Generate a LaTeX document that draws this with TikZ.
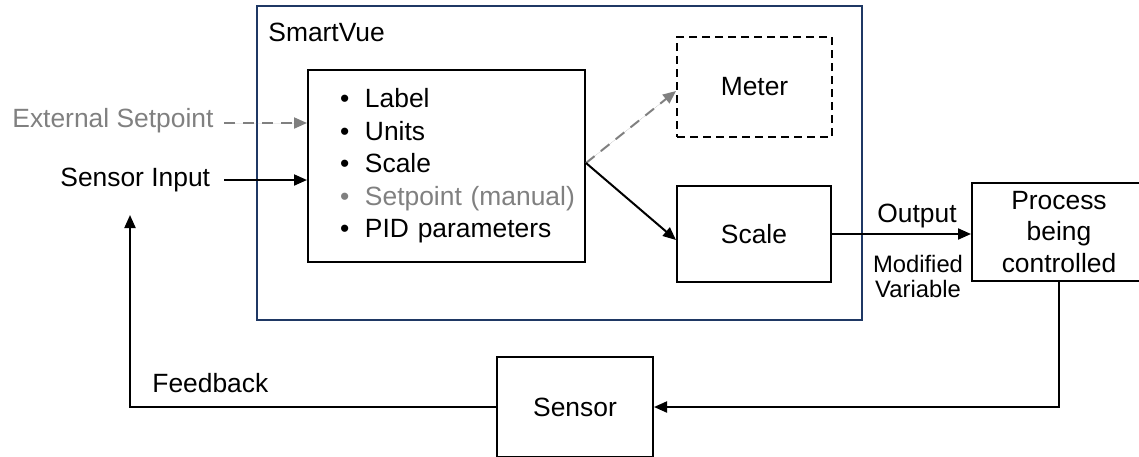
\documentclass[tikz,border=0pt]{standalone}
\usepackage{fontspec}
\setmainfont{Liberation Sans}
\usetikzlibrary{arrows.meta,calc}
\definecolor{svblue}{RGB}{31,56,100}
\definecolor{lgray}{RGB}{128,128,128}
\begin{document}
\begin{tikzpicture}[x=0.5pt,y=-0.5pt,
  every node/.style={font=\fontsize{13.2}{16.25}\selectfont},
  box/.style={draw=black, line width=1pt, inner sep=0pt},
  bluebox/.style={draw=svblue, line width=1pt, inner sep=0pt},
  dbox/.style={box, dash pattern=on 4pt off 2.5pt},
  lbl/.style={inner sep=0pt},
  arr/.style={-{Triangle[length=6.5pt,width=5.5pt]}, line width=1pt},
  garr/.style={arr, draw=lgray, fill=lgray, dash pattern=on 5.5pt off 4pt},
  small/.style={font=\fontsize{11.9}{12.5}\selectfont}]
\useasboundingbox (0,0) rectangle (1139,456);

% SmartVue container
\node[bluebox, minimum width=302.5pt, minimum height=157pt] (smart) at (559.5,163) {};
\node[lbl, anchor=base west] (title) at (268,41) {SmartVue};

% list box
\node[box, minimum height=96pt, text width=138.5pt, align=left] (list) at (446.5,166)
{\hspace*{16pt}\makebox[12.5pt][l]{\textbullet}Label\\
 \hspace*{16pt}\makebox[12.5pt][l]{\textbullet}Units\\
 \hspace*{16pt}\makebox[12.5pt][l]{\textbullet}Scale\\
 \hspace*{16pt}\textcolor{lgray}{\makebox[12.5pt][l]{\textbullet}Setpoint (manual)}\\
 \hspace*{16pt}\makebox[12.5pt][l]{\textbullet}PID parameters};

\node[dbox, minimum width=77.5pt, minimum height=50pt] (meter) at (754.5,87) {Meter};
\node[box, minimum width=77pt, minimum height=48pt] (scale) at (754,234) {Scale};
\node[box, minimum width=87pt, minimum height=49pt, align=center,
      font=\fontsize{13.2}{15.75}\selectfont] (process) at (1059,232) {Process\\being\\controlled};
\node[box, minimum width=78pt, minimum height=50pt] (sensor) at (575,407) {Sensor};

% labels
\node[lbl, anchor=base west, text=lgray] (ext) at (12,127) {External Setpoint};
\node[lbl, anchor=base west] (sin) at (60,186) {Sensor Input};
\node[lbl, anchor=base west] (fb) at (152,392) {Feedback};
\node[lbl, anchor=base] (out) at (917,222) {Output};
\node[lbl, small, anchor=north, align=center] (mv) at (918,255) {Modified\\Variable};

% connectors
\coordinate (extStart) at (224,123);
\coordinate (sinStart) at (224,180);
\draw[garr] (extStart) -- (extStart -| list.west);
\draw[arr] (sinStart) -- (sinStart -| list.west);

\coordinate (fork) at ([yshift=1.5pt]list.east);
\draw[garr] (fork) -- ([yshift=-2pt]meter.west);
\draw[arr] (fork) -- ([yshift=-3pt]scale.west);

\draw[arr] (scale.east) -- (scale.east -| process.west);
\draw[arr] (process.south) -- (process.south |- sensor.east) -- (sensor.east);

\coordinate (fbEnd) at (130,215);
\coordinate (fbCorner) at (fbEnd |- sensor.west);
\draw[arr] (sensor.west) -- (fbCorner) -- (fbEnd);
\end{tikzpicture}
\end{document}
